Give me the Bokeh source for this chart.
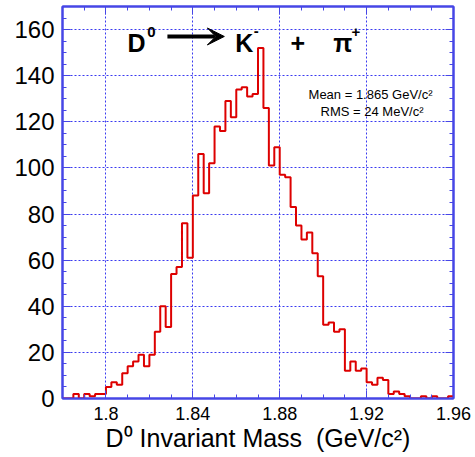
import numpy as np
from bokeh.plotting import figure
from bokeh.models import (FixedTicker, LinearAxis, Label, Arrow, VeeHead, Range1d,
                          NumeralTickFormatter, CustomJSTickFormatter)
from bokeh.embed import file_html
from bokeh.resources import INLINE

# ---- data ----
bin_low = 1.78
bin_width = 0.0025
counts = [0, 0, 2, 0, 2, 1, 2, 2, 5, 7,
          6, 11, 14, 16, 19, 14, 19, 29, 40, 31,
          54, 57, 76, 61, 88, 106, 89, 102, 118, 116,
          129, 122, 134, 135, 131, 132, 152, 126, 101, 109,
          97, 96, 83, 75, 69, 72, 63, 53, 32, 33,
          29, 30, 12, 16, 12, 13, 7, 6, 9, 8,
          2, 3, 2, 1, 0, 0, 1, 0, 1, 0,
          0, 1]
x_major = [1.8, 1.84, 1.88, 1.92, 1.96]
x_labels = ["1.8", "1.84", "1.88", "1.92", "1.96"]
x_minor = [round(1.78 + 0.01 * i, 2) for i in range(19)]
y_major = [0, 20, 40, 60, 80, 100, 120, 140, 160]
y_minor = list(range(0, 171, 5))
mean_text = "Mean = 1.865 GeV/c\u00b2"
rms_text = "RMS = 24 MeV/c\u00b2"
x_title = "D\u2070 Invariant Mass \u00a0(GeV/c\u00b2)"

BLUE = "#4646e6"
GRID = "#3a3af0"
RED = "#dd0000"
FONT = "Liberation Sans"

edges = bin_low + bin_width * np.arange(len(counts) + 1)
step_y = list(counts) + [counts[-1]]

p = figure(width=475, height=457, x_range=Range1d(1.78, 1.96), y_range=Range1d(0, 170),
           output_backend="svg", toolbar_location=None,
           min_border_left=62, min_border_right=22, min_border_top=6, min_border_bottom=59)
p.background_fill_color = "white"
p.border_fill_color = "white"
p.outline_line_color = BLUE
p.outline_line_width = 2

p.step(edges, step_y, mode="after", line_color=RED, line_width=2)

xt = FixedTicker(ticks=x_major, minor_ticks=x_minor)
yt = FixedTicker(ticks=y_major, minor_ticks=y_minor)


def style_axis(ax, labels=True):
    ax.axis_line_color = BLUE
    ax.axis_line_width = 2
    ax.major_tick_line_color = BLUE
    ax.minor_tick_line_color = BLUE
    ax.major_tick_line_width = 1
    ax.minor_tick_line_width = 1
    ax.major_tick_in = 8
    ax.major_tick_out = 0
    ax.minor_tick_in = 4
    ax.minor_tick_out = 0
    ax.major_label_text_font = FONT
    ax.major_label_text_color = "black"
    if not labels:
        ax.formatter = CustomJSTickFormatter(code="return '';")
        ax.major_label_standoff = 0


xa = p.xaxis[0]
xa.ticker = xt
xa.formatter = NumeralTickFormatter(format="0.0[0]")
xa.major_label_overrides = dict(zip(x_major, x_labels))
style_axis(xa)
xa.major_label_text_font_size = "18px"
xa.major_label_standoff = 8
xa.axis_label = x_title
xa.axis_label_text_font = FONT
xa.axis_label_text_font_size = "25px"
xa.axis_label_text_font_style = "normal"
xa.axis_label_text_color = "black"
xa.axis_label_standoff = 1

ya = p.yaxis[0]
ya.ticker = yt
style_axis(ya)
ya.major_label_text_font_size = "24px"
ya.major_label_standoff = 8

top = LinearAxis(ticker=FixedTicker(ticks=x_major, minor_ticks=x_minor))
style_axis(top, labels=False)
p.add_layout(top, "above")
right = LinearAxis(ticker=FixedTicker(ticks=y_major, minor_ticks=y_minor))
style_axis(right, labels=False)
p.add_layout(right, "right")

p.xgrid.ticker = xt
p.ygrid.ticker = yt
for g in (p.xgrid[0], p.ygrid[0]):
    g.grid_line_color = GRID
    g.grid_line_dash = "2 2"
    g.grid_line_width = 1

# ---- decay title ----
def lab(x, y, text, size, bold=True, align="left"):
    p.add_layout(Label(x=x, y=y, text=text, text_font=FONT, text_font_size=size,
                       text_font_style="bold" if bold else "normal",
                       text_align=align, text_baseline="alphabetic", text_color="black"))

lab(1.8099, 154.0, "D", "25px")
lab(1.8190, 158.8, "0", "15px")
p.add_layout(Arrow(end=VeeHead(size=17, fill_color="black", line_color="black"),
                   x_start=1.8283, y_start=157.0, x_end=1.8545, y_end=157.0,
                   line_width=4, line_color="black"))
lab(1.8595, 154.0, "K", "25px")
lab(1.8680, 159.5, "-", "15px")
lab(1.8883, 154.0, "+", "25px", align="center")
lab(1.9046, 154.0, "\u03c0", "25px")
lab(1.9131, 158.8, "+", "15px")

lab(1.9218, 131.8, mean_text, "13px", bold=False, align="center")
lab(1.9225, 124.4, rms_text, "13px", bold=False, align="center")

open("out.html", "w").write(file_html(p, INLINE))
